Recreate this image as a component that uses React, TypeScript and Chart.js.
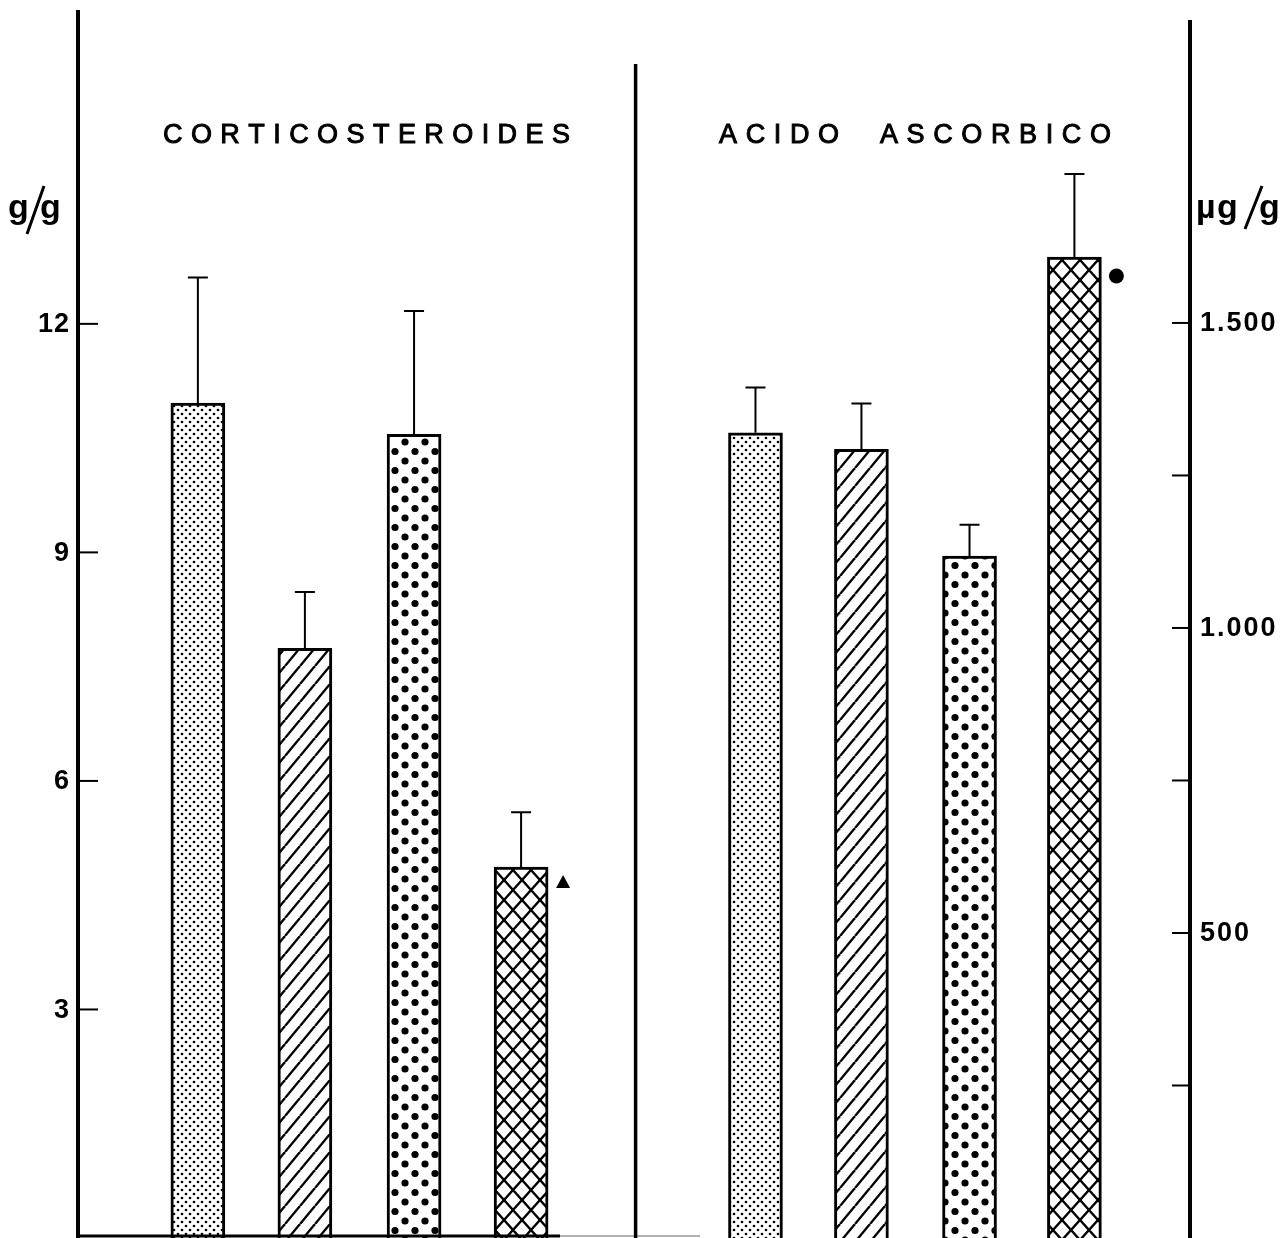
import React, { useEffect, useRef } from "react";
import { Chart, registerables } from "chart.js";

Chart.register(...registerables);

// Corticosteroides (g/g): group means and standard deviations
const corticoMeans = [10.96, 7.74, 10.55, 4.87];
const corticoSD = [1.65, 0.74, 1.62, 0.72];
// Ácido ascórbico (µg/g): group means and standard deviations
const ascorbicMeans = [1320, 1293, 1118, 1608];
const ascorbicSD = [74, 75, 51, 136];

// Horizontal slot of each bar on the shared x axis
const corticoSlots = [1.12, 2.12, 3.14, 4.14];
const ascorbicSlots = [6.33, 7.32, 8.33, 9.31];
const dividerSlot = 5.21;

// Axis ticks
const leftTicks = [3, 6, 9, 12];
const leftTickLabels = ["3", "6", "9", "12"];
const rightTicks = [250, 500, 750, 1000, 1250, 1500];
const rightTickLabels = ["", "500", "", "1.000", "", "1.500"];

// Significance markers on the fourth group
const corticoMarker = "triangle";
const ascorbicMarker = "circle";

const W = 1283;
const H = 1238;

function makeTile(w: number, h: number, draw: (c: CanvasRenderingContext2D) => void) {
  const cv = document.createElement("canvas");
  cv.width = w;
  cv.height = h;
  const c = cv.getContext("2d")!;
  c.fillStyle = "#fff";
  c.fillRect(0, 0, w, h);
  c.fillStyle = "#000";
  c.strokeStyle = "#000";
  draw(c);
  return cv;
}

function buildPatterns(ctx: CanvasRenderingContext2D) {
  const fine = makeTile(8, 8, (c) => {
    for (const [x, y] of [[2, 2], [6, 6]]) {
      c.beginPath();
      c.arc(x, y, 1.35, 0, Math.PI * 2);
      c.fill();
    }
  });
  const hatch = makeTile(15, 18, (c) => {
    c.lineWidth = 2.4;
    for (const off of [-15, 0, 15]) {
      c.beginPath();
      c.moveTo(off, 18);
      c.lineTo(off + 15, 0);
      c.stroke();
    }
  });
  const big = makeTile(20, 19, (c) => {
    for (const [x, y] of [[5, 5], [15, 14.5], [-5, 14.5], [15, -4.5], [-5, -4.5], [5, 24], [25, 14.5]]) {
      c.beginPath();
      c.arc(x, y, 3.6, 0, Math.PI * 2);
      c.fill();
    }
  });
  const cross = makeTile(18, 20, (c) => {
    c.lineWidth = 2.4;
    c.beginPath();
    c.moveTo(0, 0);
    c.lineTo(18, 20);
    c.moveTo(18, 0);
    c.lineTo(0, 20);
    c.stroke();
  });
  return [fine, hatch, big, cross].map((t) => ctx.createPattern(t, "repeat")!);
}

function spacedText(
  c: CanvasRenderingContext2D,
  text: string,
  x0: number,
  x1: number,
  y: number
) {
  // Spread the letters so the word run spans [x0, x1]; a thin stroke gives a medium weight
  const chars = Array.from(text);
  const widths = chars.map((ch) => c.measureText(ch).width);
  const total = widths.reduce((a, b) => a + b, 0);
  const gap = (x1 - x0 - total) / (chars.length - 1);
  let x = x0;
  c.textAlign = "left";
  c.lineWidth = 1;
  chars.forEach((ch, i) => {
    c.fillText(ch, x, y);
    c.strokeText(ch, x, y);
    x += widths[i] + gap;
  });
}

const decorations = {
  id: "paperDecorations",
  afterDatasetsDraw(chart: any) {
    const c: CanvasRenderingContext2D = chart.ctx;
    const xs = chart.scales.x;
    const yl = chart.scales.y;
    const yr = chart.scales.y1;
    const area = chart.chartArea;
    const leftX = area.left;
    const rightX = area.right;
    c.save();
    c.strokeStyle = "#000";
    c.fillStyle = "#000";
    c.lineCap = "butt";

    // error bars
    const drawErr = (slots: number[], means: number[], sd: number[], scale: any) => {
      c.lineWidth = 2;
      slots.forEach((s, i) => {
        const px = xs.getPixelForValue(s);
        const yTop = scale.getPixelForValue(means[i]);
        const yErr = scale.getPixelForValue(means[i] + sd[i]);
        c.beginPath();
        c.moveTo(px, yTop);
        c.lineTo(px, yErr);
        c.moveTo(px - 10, yErr);
        c.lineTo(px + 10, yErr);
        c.stroke();
      });
    };
    drawErr(corticoSlots, corticoMeans, corticoSD, yl);
    drawErr(ascorbicSlots, ascorbicMeans, ascorbicSD, yr);

    // axes and divider
    c.lineWidth = 4;
    c.beginPath();
    c.moveTo(leftX, 10);
    c.lineTo(leftX, H);
    c.stroke();
    c.beginPath();
    c.moveTo(rightX, 20);
    c.lineTo(rightX, H);
    c.stroke();
    const divX = xs.getPixelForValue(dividerSlot);
    c.lineWidth = 3.5;
    c.beginPath();
    c.moveTo(divX, 64);
    c.lineTo(divX, H);
    c.stroke();

    // baseline
    const baseY = H - 2;
    c.lineWidth = 3;
    c.beginPath();
    c.moveTo(leftX, baseY);
    c.lineTo(560, baseY);
    c.stroke();
    c.strokeStyle = "rgba(0,0,0,0.3)";
    c.lineWidth = 2;
    c.beginPath();
    c.moveTo(560, baseY);
    c.lineTo(700, baseY);
    c.stroke();
    c.strokeStyle = "#000";

    // ticks and labels
    c.font = "bold 27px 'Liberation Sans', Arial, sans-serif";
    c.textBaseline = "middle";
    c.lineWidth = 2;
    leftTicks.forEach((v, i) => {
      const py = yl.getPixelForValue(v);
      c.beginPath();
      c.moveTo(leftX, py);
      c.lineTo(leftX + 20, py);
      c.stroke();
      c.textAlign = "right";
      (c as any).letterSpacing = "1px";
      c.fillText(leftTickLabels[i], leftX - 8, py + 1);
      (c as any).letterSpacing = "0px";
    });
    rightTicks.forEach((v, i) => {
      const py = yr.getPixelForValue(v);
      c.beginPath();
      c.moveTo(rightX - 18, py);
      c.lineTo(rightX, py);
      c.stroke();
      const lab = rightTickLabels[i];
      if (lab) {
        c.textAlign = "left";
        (c as any).letterSpacing = "2px";
        c.fillText(lab, rightX + 10, py + 1);
        (c as any).letterSpacing = "0px";
      }
    });

    // panel titles
    c.textBaseline = "alphabetic";
    c.font = "27px 'Liberation Sans', Arial, sans-serif";
    spacedText(c, "CORTICOSTEROIDES", 163, 570, 143);
    spacedText(c, "ACIDO  ASCORBICO", 719, 1111, 143);

    // units
    c.font = "bold 34px 'Liberation Sans', Arial, sans-serif";
    c.textAlign = "left";
    c.fillText("g", 8, 218);
    c.fillText("g", 40, 218);
    c.lineWidth = 3;
    c.beginPath();
    c.moveTo(27, 234);
    c.lineTo(44, 186);
    c.stroke();
    c.fillText("\u00b5", 1196, 218);
    c.fillText("g", 1217, 218);
    c.fillText("g", 1259, 218);
    c.beginPath();
    c.moveTo(1245, 229);
    c.lineTo(1262, 186);
    c.stroke();

    // significance markers
    const m1x = xs.getPixelForValue(corticoSlots[3]) + 42;
    const m1y = yl.getPixelForValue(corticoMeans[3]) + 15;
    if (corticoMarker === "triangle") {
      c.beginPath();
      c.moveTo(m1x, m1y - 7);
      c.lineTo(m1x + 7, m1y + 6);
      c.lineTo(m1x - 7, m1y + 6);
      c.closePath();
      c.fill();
    }
    const m2x = xs.getPixelForValue(ascorbicSlots[3]) + 42;
    const m2y = yr.getPixelForValue(ascorbicMeans[3]) + 19;
    if (ascorbicMarker === "circle") {
      c.beginPath();
      c.arc(m2x, m2y, 7.5, 0, Math.PI * 2);
      c.fill();
    }
    c.restore();
  },
};

export default function App() {
  const ref = useRef<HTMLCanvasElement | null>(null);

  useEffect(() => {
    document.body.style.margin = "0";
    document.body.style.overflow = "hidden";
    const canvas = ref.current!;
    const ctx = canvas.getContext("2d")!;
    const patterns = buildPatterns(ctx);

    const chart = new Chart(ctx, {
      type: "bar",
      data: {
        datasets: [
          {
            label: "Corticosteroides",
            data: corticoSlots.map((s, i) => ({ x: s, y: corticoMeans[i] })),
            yAxisID: "y",
            backgroundColor: patterns,
            borderColor: "#000",
            borderWidth: 3,
            barThickness: 54,
            grouped: false,
          } as any,
          {
            label: "Acido ascorbico",
            data: ascorbicSlots.map((s, i) => ({ x: s, y: ascorbicMeans[i] })),
            yAxisID: "y1",
            backgroundColor: patterns,
            borderColor: "#000",
            borderWidth: 3,
            barThickness: 54,
            grouped: false,
          } as any,
        ],
      },
      options: {
        animation: false,
        responsive: false,
        maintainAspectRatio: false,
        devicePixelRatio: 1,
        layout: { padding: { left: 78, right: W - 1190, top: 10, bottom: 0 } },
        plugins: {
          legend: { display: false },
          tooltip: { enabled: false },
        },
        scales: {
          x: { type: "linear", min: 0, max: 10.39, offset: false, display: false },
          y: { type: "linear", min: 0, max: 16.12, display: false },
          y1: { type: "linear", min: 0, max: 2013, display: false },
        },
      },
      plugins: [decorations],
    });
    return () => chart.destroy();
  }, []);

  return (
    <div style={{ width: W, height: H, background: "#fff" }}>
      <canvas ref={ref} width={W} height={H} style={{ display: "block" }} />
    </div>
  );
}
